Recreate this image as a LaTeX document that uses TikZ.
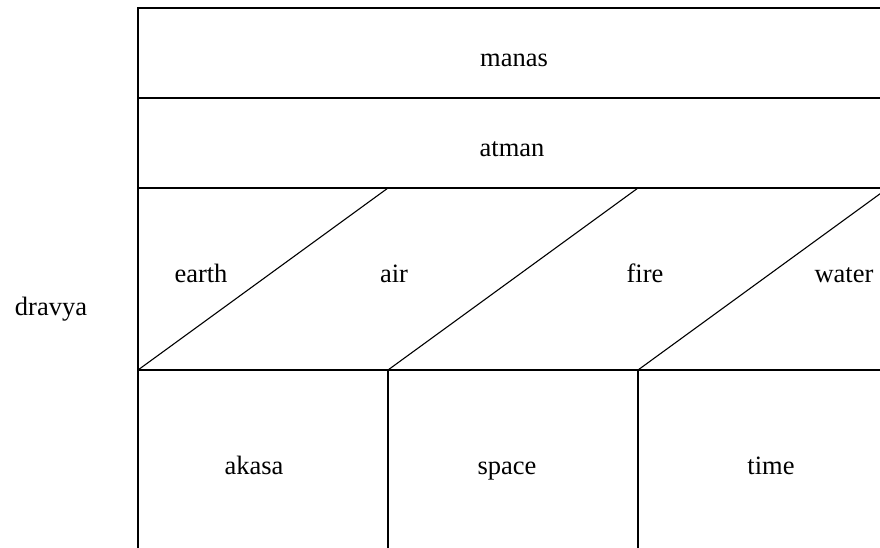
\documentclass[tikz,border=0pt]{standalone}
\usepackage{fontspec}
\setmainfont{Liberation Serif}
\begin{document}
\begin{tikzpicture}[x=1pt,y=-1pt,
  rule/.style={draw=black,line width=1.1pt},
  lbl/.style={anchor=base,inner sep=0pt,font=\fontsize{26.5}{30}\selectfont}]
\useasboundingbox (0,0) rectangle (880,548);
\clip (0,0) rectangle (880,548);
% grid coordinates
\coordinate (tl) at (138,8);
\coordinate (tr) at (890,8);
\coordinate (r1l) at (138,98);
\coordinate (r1r) at (890,98);
\coordinate (r2l) at (138,188);
\coordinate (r2r) at (890,188);
\coordinate (r3l) at (138,370);
\coordinate (r3r) at (890,370);
\coordinate (bl) at (138,560);
\coordinate (br) at (890,560);
\coordinate (ta) at (388,188);
\coordinate (tb) at (638,188);
\coordinate (tc) at (888,188);
\coordinate (ma) at (388,370);
\coordinate (mb) at (638,370);
\coordinate (ba) at (388,560);
\coordinate (bb) at (638,560);
% frame and rows
\draw[rule] (bl) -- (tl) -- (tr);
\draw[rule] (r1l) -- (r1r);
\draw[rule] (r2l) -- (r2r);
\draw[rule] (r3l) -- (r3r);
% diagonals
\draw[rule] (r3l) -- (ta);
\draw[rule] (ma) -- (tb);
\draw[rule] (mb) -- (tc);
% bottom columns
\draw[rule] (ma) -- (ba);
\draw[rule] (mb) -- (bb);
% labels
\node[lbl] (manas) at (514,67) {manas};
\node[lbl] (atman) at (512,157) {atman};
\node[lbl] (dravya) at (51,315) {dravya};
\node[lbl] (earth) at (201,282) {earth};
\node[lbl] (air) at (394,282) {air};
\node[lbl] (fire) at (645,282) {fire};
\node[lbl] (water) at (844,282) {water};
\node[lbl] (akasa) at (254,474) {akasa};
\node[lbl] (space) at (507,474) {space};
\node[lbl] (time) at (771,474) {time};
\end{tikzpicture}
\end{document}
